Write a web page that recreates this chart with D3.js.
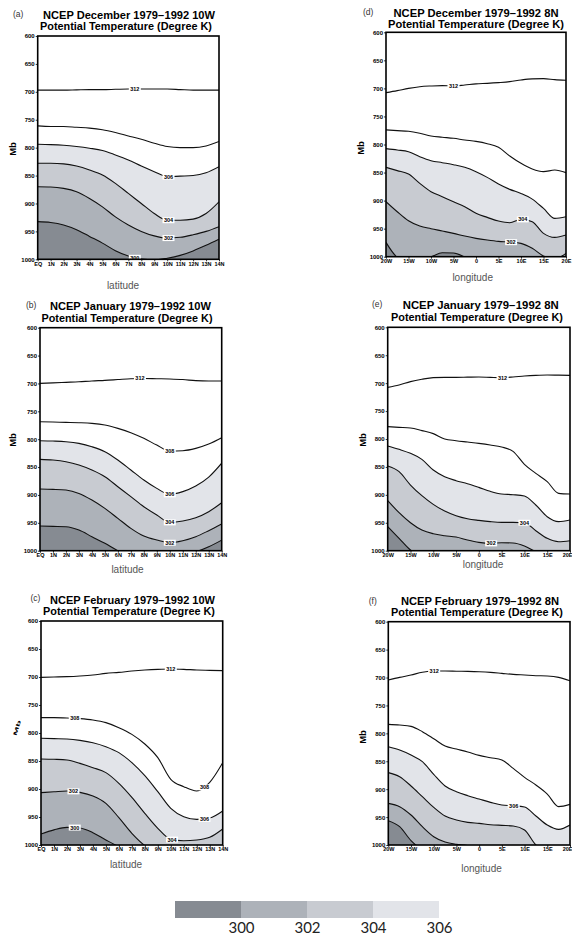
<!DOCTYPE html>
<html>
<head>
<meta charset="utf-8">
<script src="https://cdn.jsdelivr.net/npm/d3@7"></script>
<style>
  body { margin: 0; background: #fff; }
  svg { display: block; }
</style>
</head>
<body>
<svg id="chart" width="572" height="935"></svg>
<script>
// contour levels, top to bottom, each data row below follows this order
var levels = [312, 308, 306, 304, 302, 300];
var shadeLevels = [306, 304, 302, 300];
var shadeColors = ["#e2e4e9", "#c8cbd1", "#adb2b9", "#868b92"];
var legendLevels = [300, 302, 304, 306];

var pressureTicks = [600, 650, 700, 750, 800, 850, 900, 950, 1000];
var latGrid = d3.range(0, 15);
var latTickLabels = ["EQ", "1N", "2N", "3N", "4N", "5N", "6N", "7N", "8N", "9N", "10N", "11N", "12N", "13N", "14N"];
var lonGrid = d3.range(-20, 20.01, 2.5);
var lonTicks = [-20, -15, -10, -5, 0, 5, 10, 15, 20];
var lonTickLabels = ["20W", "15W", "10W", "5W", "0", "5E", "10E", "15E", "20E"];

// pressure (mb) of each isentrope at every grid point
// 10W sections: EQ..14N, 8N sections: 20W..20E every 2.5 deg
var dec10W = [
  [697, 697, 697, 696.5, 696, 696, 695.5, 695, 695, 695, 695, 696, 697, 697, 697],
  [761, 762, 762, 763.5, 765, 768, 773, 779, 785, 792, 798, 800, 800, 797, 789],
  [794, 794.6, 795.8, 798, 801, 805, 813, 822, 833, 843, 852, 851, 850, 845, 834],
  [828, 828, 829, 833, 840, 849, 864, 882, 900, 918, 930, 930, 928, 918, 897],
  [870, 870.4, 873, 879, 891, 906, 924, 938.5, 950, 958, 962, 960.6, 956, 950, 941.5],
  [932.5, 934, 938.5, 947, 959, 971, 984.5, 994, 999.5, 1001, 998, 993, 985, 975, 964]
];
var jan10W = [
  [699.8, 699, 698, 697, 695.5, 694.5, 693, 691.5, 691, 691.5, 692, 693, 695, 695.7, 695.7],
  [768.6, 769.2, 769.8, 770.4, 771.6, 774.6, 780.6, 788.3, 798.5, 810.5, 821.2, 820.6, 816.4, 808.7, 797.3],
  [802.7, 803.3, 804.5, 807.5, 813.5, 822.4, 837.4, 855.3, 873.2, 888.2, 899, 894, 884, 868, 843],
  [836.2, 837.4, 840.4, 846.3, 855.3, 867.3, 885.2, 903.1, 921.1, 936, 949.2, 946.8, 940.8, 930, 913.9],
  [889.4, 890, 891.2, 897.2, 909.1, 924.1, 942, 959.9, 973.7, 980.9, 985.7, 982.1, 974.9, 964.1, 952.2],
  [955.8, 956.4, 957, 963, 974.9, 986.8, 1000, 1010, 1015, 1015, 1012, 1008, 1002, 993, 981]
];
var feb10W = [
  [700.6, 700, 699.4, 698.2, 696.4, 693.5, 691.7, 689.3, 687.5, 686.3, 685.7, 686.3, 687.5, 688.1, 688.7],
  [772.6, 772.6, 773.2, 774.4, 776.8, 781.5, 790.5, 802.4, 819.6, 844, 882.7, 895.8, 903.6, 888, 853],
  [809.5, 810.1, 810.7, 813.1, 817.3, 824.4, 835.1, 853, 876.2, 904.8, 934.5, 949.4, 954.2, 951.8, 939.3],
  [846.4, 847, 848.2, 854.2, 861.9, 870.8, 889.9, 914.9, 943.5, 970.2, 989.9, 992.3, 991.1, 986.3, 971.4],
  [906.5, 905, 903.6, 906, 912.5, 925.6, 951.2, 979.2, 1001, 1012, 1015, 1015, 1015, 1015, 1015],
  [980.4, 973, 968.5, 969.6, 978, 991, 1003, 1012, 1015, 1015, 1015, 1015, 1015, 1015, 1015]
];
var dec8N = [
  [707.6, 704, 700, 697, 695.7, 695, 695.7, 694, 692, 691, 689.7, 688, 685, 683, 682.6, 684.4, 685.6],
  [774, 775.3, 776.5, 780, 784.8, 787, 789, 792, 794.4, 798.5, 805, 820.5, 833.6, 843.7, 848.4, 845.5, 850.2],
  [807.4, 809.8, 812.8, 821.7, 828.8, 832.4, 836, 840.7, 848.5, 858.6, 870.4, 880, 887.2, 897.3, 914, 931.7, 928.8],
  [840.7, 846.6, 852.6, 869.2, 884.1, 893, 902, 910.8, 922.7, 929.9, 936.4, 939.4, 933.4, 937.6, 958.4, 965.6, 961.4],
  [901.9, 919.8, 935.8, 945.3, 950.1, 954.2, 958.4, 963.2, 967.3, 970.3, 972.7, 973.9, 976.2, 985.1, 998.8, 1003.6, 994],
  [974.5, 1001, 1008, 1004, 1000, 993, 993.5, 1000.5, 1010, 1012, 1012, 1012, 1012, 1012, 1012, 1012, 1012]
];
var jan8N = [
  [707.5, 703.3, 697.3, 693.1, 690.1, 689.6, 689.6, 689.3, 689, 689.6, 690.1, 689, 687.2, 686, 685.4, 685.7, 686],
  [777.9, 779.1, 780.3, 785, 790.4, 800, 803, 805.4, 807.8, 810.7, 814.3, 822.1, 845.4, 861.5, 876.4, 897.3, 898.5],
  [812.5, 818.5, 825.7, 836.4, 855.5, 867.5, 874.6, 880, 886.6, 893.7, 898.5, 899.7, 902.1, 918.2, 939.1, 948, 945.1],
  [848.4, 858.5, 882.4, 901.5, 917, 929, 937.3, 942.7, 945.7, 948, 949.3, 949.3, 949.9, 964.2, 977.9, 983.9, 982.1],
  [910.4, 931.9, 949.9, 963, 969.6, 973.1, 975.5, 980.9, 985.1, 986.9, 985.7, 986.3, 991.6, 1001.8, 1010, 1012, 1012],
  [957, 977.9, 998.8, 1010, 1012, 1012, 1012, 1012, 1012, 1012, 1012, 1012, 1012, 1012, 1012, 1012, 1012]
];
var feb8N = [
  [704.5, 699.7, 695.5, 690.7, 688.4, 688.4, 688.7, 689, 689.6, 690.7, 692.5, 694.3, 695.5, 696.7, 697.3, 699.7, 705.7],
  [783.9, 785.1, 787.5, 797, 809.6, 822.7, 828.1, 833.4, 839.4, 843.6, 847.8, 862.7, 878.8, 892.5, 908.7, 931.3, 927.2],
  [823.9, 829.9, 838.8, 850.7, 873.4, 894.3, 904.5, 911.6, 917.6, 923.6, 928.4, 929.6, 932, 948, 964.2, 972, 964.2],
  [870.4, 877.6, 894.3, 913.4, 932.5, 948, 955.2, 959.4, 961.2, 963.6, 964.8, 965.9, 973.1, 1000, 1010, 1012, 1012],
  [925.4, 931.3, 946.3, 967.2, 985.1, 994.6, 998.8, 1001.2, 1008, 1012, 1012, 1012, 1012, 1012, 1012, 1012, 1012],
  [956.4, 967.2, 992.2, 1008, 1012, 1012, 1012, 1012, 1012, 1012, 1012, 1012, 1012, 1012, 1012, 1012, 1012]
];

// inline contour labels: [level, position along the axis]
var labelsDec10W = [[312, 7.5], [306, 10.1], [304, 10.1], [302, 10.1], [300, 7.5]];
var labelsJan10W = [[312, 7.7], [308, 10], [306, 10], [304, 10], [302, 10]];
var labelsFeb10W = [[312, 10], [308, 2.6], [308, 12.6], [306, 12.6], [304, 10.1], [302, 2.5], [300, 2.6]];
var labelsDec8N = [[312, -5], [304, 10.4], [302, 7.8]];
var labelsJan8N = [[312, 5.2], [304, 10], [302, 2.7]];
var labelsFeb8N = [[312, -9.9], [306, 7.6]];

var panels = [
  {tag: "(a)", tagX: 13, tagY: 16.5, month: "December", sect: "10W", data: dec10W, labels: labelsDec10W, lat: true,
   x0: 37.7, y0: 36, x1: 219, y1: 259.3, t1: [129, 19, 172], t2: [126, 30.3, 172], mb: [12.7, 149], ax: [123, 289]},
  {tag: "(b)", tagX: 26, tagY: 307.5, month: "January", sect: "10W", data: jan10W, labels: labelsJan10W, lat: true,
   x0: 40, y0: 327.7, x1: 221.7, y1: 550.7, t1: [130.4, 310, 161], t2: [127, 321.5, 171], mb: [13, 440], ax: [127.5, 573]},
  {tag: "(c)", tagX: 30.5, tagY: 601, month: "February", sect: "10W", data: feb10W, labels: labelsFeb10W, lat: true,
   x0: 41, y0: 621, x1: 222.7, y1: 845, t1: [132.5, 604, 165], t2: [129, 615, 172], mb: null, ax: [126, 868]},
  {tag: "(d)", tagX: 363, tagY: 15, month: "December", sect: "8N", data: dec8N, labels: labelsDec8N, lat: false,
   x0: 386, y0: 32.3, x1: 566, y1: 256.7, t1: [476, 17.3, 165], t2: [476, 27.8, 176], mb: [361, 148], ax: [472.7, 281]},
  {tag: "(e)", tagX: 372, tagY: 306.5, month: "January", sect: "8N", data: jan8N, labels: labelsJan8N, lat: false,
   x0: 387.7, y0: 327.3, x1: 570, y1: 550.7, t1: [480.7, 309.3, 156], t2: [477, 320.7, 172], mb: [363, 440], ax: [483, 568]},
  {tag: "(f)", tagX: 368.7, tagY: 604, month: "February", sect: "8N", data: feb8N, labels: labelsFeb8N, lat: false,
   x0: 388.3, y0: 621.7, x1: 570, y1: 845, t1: [480, 605, 158], t2: [477, 616, 172], mb: [363, 737], ax: [481.5, 871.5]}
];

var svg = d3.select("#chart");
var FONT = "'Liberation Sans', Arial, sans-serif";

// walk along a path until we reach a given x (contours run left to right)
function pointAtX(node, px) {
  var lo = 0, hi = node.getTotalLength();
  for (var it = 0; it < 30; it++) {
    var mid = (lo + hi) / 2;
    if (node.getPointAtLength(mid).x < px) lo = mid; else hi = mid;
  }
  return node.getPointAtLength(lo);
}

panels.forEach(function(pn, i) {
  var w = pn.x1 - pn.x0, h = pn.y1 - pn.y0;
  var grid = pn.lat ? latGrid : lonGrid;

  var x = d3.scaleLinear().domain(pn.lat ? [0, 14] : [-20, 20]).range([0, w]);
  var y = d3.scaleLinear().domain([600, 1000]).range([0, h]);

  var g = svg.append("g").attr("transform", "translate(" + pn.x0 + "," + pn.y0 + ")");

  g.append("clipPath").attr("id", "clip" + i)
    .append("rect").attr("width", w).attr("height", h);

  var plot = g.append("g").attr("clip-path", "url(#clip" + i + ")");

  // shading: fill everything below each isentrope, warmest first
  var area = d3.area()
    .curve(d3.curveMonotoneX)
    .x(function(d, j) { return x(grid[j]); })
    .y0(h)
    .y1(function(d) { return y(d); });

  shadeLevels.forEach(function(lev, k) {
    plot.append("path")
      .datum(pn.data[levels.indexOf(lev)])
      .attr("d", area)
      .attr("fill", shadeColors[k]);
  });

  var line = d3.line()
    .curve(d3.curveMonotoneX)
    .x(function(d, j) { return x(grid[j]); })
    .y(function(d) { return y(d); });

  var paths = {};
  levels.forEach(function(lev, k) {
    paths[lev] = plot.append("path")
      .datum(pn.data[k])
      .attr("d", line)
      .attr("fill", "none")
      .attr("stroke", "#111")
      .attr("stroke-width", 1.1);
  });

  pn.labels.forEach(function(lb) {
    var pt = pointAtX(paths[lb[0]].node(), x(lb[1]));
    var lg = g.append("g").attr("transform", "translate(" + pt.x + "," + pt.y + ")");
    lg.append("rect")
      .attr("x", -6).attr("y", -3)
      .attr("width", 12).attr("height", 6)
      .attr("fill", "#fff");
    lg.append("text")
      .attr("text-anchor", "middle")
      .attr("dy", "0.36em")
      .attr("font-family", FONT)
      .attr("font-size", 5.5)
      .attr("font-weight", "bold")
      .text(lb[0]);
  });

  g.append("rect")
    .attr("width", w).attr("height", h)
    .attr("fill", "none")
    .attr("stroke", "#000")
    .attr("stroke-width", 1.6);

  var yAxis = d3.axisLeft(y)
    .tickValues(pressureTicks)
    .tickFormat(d3.format("d"))
    .tickSize(2).tickPadding(1);
  var xAxis = d3.axisBottom(x)
    .tickValues(pn.lat ? latGrid : lonTicks)
    .tickFormat(function(d, j) { return (pn.lat ? latTickLabels : lonTickLabels)[j]; })
    .tickSize(2).tickPadding(0.5);

  g.append("g").call(yAxis).call(styleAxis, 6);
  var xg = g.append("g").attr("transform", "translate(0," + h + ")").call(xAxis).call(styleAxis, 5.5);

  // the last longitude label runs into the page edge: keep it inside
  if (pn.x1 + 5 > 572) {
    xg.selectAll(".tick:last-of-type text").attr("text-anchor", "end").attr("dx", 572 - pn.x1);
  }

  // titles
  [[pn.t1, "NCEP " + pn.month + " 1979\u22121992 " + pn.sect],
   [pn.t2, "Potential Temperature (Degree K)"]].forEach(function(t) {
    svg.append("text")
      .attr("x", t[0][0]).attr("y", t[0][1])
      .attr("text-anchor", "middle")
      .attr("font-family", FONT)
      .attr("font-size", 10)
      .attr("font-weight", "bold")
      .attr("textLength", t[0][2])
      .attr("lengthAdjust", "spacingAndGlyphs")
      .text(t[1]);
  });

  svg.append("text")
    .attr("x", pn.tagX).attr("y", pn.tagY)
    .attr("font-family", FONT)
    .attr("font-size", 8.5)
    .attr("fill", "#333")
    .text(pn.tag);

  if (pn.mb) {
    svg.append("text")
      .attr("transform", "translate(" + pn.mb[0] + "," + pn.mb[1] + ") rotate(-90)")
      .attr("text-anchor", "middle")
      .attr("dy", "0.35em")
      .attr("font-family", FONT)
      .attr("font-size", 9.5)
      .attr("font-weight", "bold")
      .text("Mb");
  } else {
    // the label in panel (c) came out smudged in the original
    svg.append("text")
      .attr("transform", "translate(17,728) rotate(-72) scale(1,0.45)")
      .attr("text-anchor", "middle")
      .attr("dy", "0.35em")
      .attr("font-family", FONT)
      .attr("font-size", 11)
      .attr("font-weight", "bold")
      .text("Mb");
  }

  svg.append("text")
    .attr("x", pn.ax[0]).attr("y", pn.ax[1])
    .attr("text-anchor", "middle")
    .attr("font-family", FONT)
    .attr("font-size", 10)
    .attr("fill", "#555")
    .text(pn.lat ? "latitude" : "longitude");
});

function styleAxis(sel, size) {
  sel.select(".domain").remove();
  sel.selectAll("line").attr("stroke", "#000").attr("stroke-width", 0.8);
  sel.selectAll("text")
    .attr("font-family", FONT)
    .attr("font-size", size)
    .attr("font-weight", "bold")
    .attr("fill", "#000");
}

// colour bar
var lx = d3.scaleLinear().domain([298, 306]).range([175, 439]);
var legend = svg.append("g");
legend.selectAll("rect")
  .data(legendLevels)
  .enter().append("rect")
    .attr("x", function(d) { return lx(d - 2); })
    .attr("y", 901)
    .attr("width", function(d) { return lx(d) - lx(d - 2); })
    .attr("height", 17)
    .attr("fill", function(d, k) { return shadeColors[3 - k]; });

var legendAxis = d3.axisBottom(lx).tickValues(legendLevels).tickSize(0).tickPadding(4);
legend.append("g")
  .attr("transform", "translate(0,918)")
  .call(legendAxis)
  .call(function(s) {
    s.select(".domain").remove();
    s.selectAll("text")
      .attr("font-family", "Lato, 'DejaVu Sans', sans-serif")
      .attr("font-size", 15)
      .attr("fill", "#222");
  });
</script>
</body>
</html>
